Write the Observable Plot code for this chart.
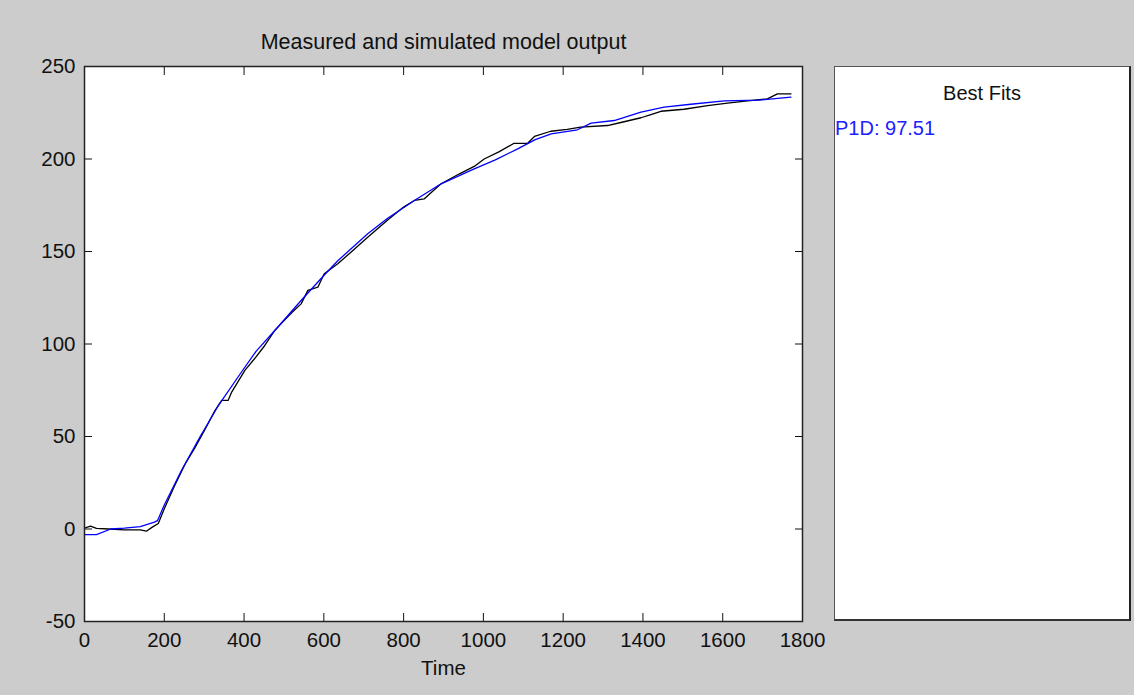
<!DOCTYPE html>
<html><head><meta charset="utf-8">
<script src="https://cdn.jsdelivr.net/npm/d3@7"></script>
<script src="https://cdn.jsdelivr.net/npm/@observablehq/plot@0.6"></script>
<style>
html,body{margin:0;padding:0;background:#cccccc;}
#wrap{position:relative;width:1134px;height:695px;background:#cccccc;font-family:"Liberation Sans",Arial,sans-serif;overflow:hidden;}
#wrap svg{position:absolute;left:0;top:0;}
#legend{position:absolute;left:834px;top:66px;width:294px;height:552px;background:#fff;border-top:1px solid #555;border-left:1px solid #555;border-right:2px solid #222;border-bottom:2px solid #333;}
#legend .ttl{position:absolute;left:0;right:0;top:15px;text-align:center;font-size:20px;color:#111;}
#legend .fit{position:absolute;left:0px;top:50px;font-size:20px;color:#2020ff;}
</style>
</head><body>
<div id="wrap">
  <div id="legend"><div class="ttl"></div><div class="fit"></div></div>
</div>
<script>
const titleText = "Measured and simulated model output";
const xLabel = "Time";
const legendTitle = "Best Fits";
const legendEntry = "P1D: 97.51";
const xTicks = [0, 200, 400, 600, 800, 1000, 1200, 1400, 1600, 1800];
const yTicks = [-50, 0, 50, 100, 150, 200, 250];

// Measured output (black)
const measuredT = [0, 15, 30, 60, 100, 140, 155, 170, 185, 200, 225, 252, 277, 300, 327, 344, 360, 369, 402, 430, 452, 477, 493, 520, 543, 560, 585, 601, 635, 670, 710, 760, 800, 827, 852, 870, 894, 940, 977, 1002, 1040, 1077, 1111, 1128, 1169, 1210, 1244, 1311, 1350, 1395, 1420, 1445, 1503, 1562, 1612, 1662, 1712, 1737, 1771];
const measuredY = [0.5, 1.5, 0.3, 0, -0.5, -0.5, -1.2, 1, 3, 11, 23, 35, 44, 53, 64, 69.5, 69.5, 74, 85.7, 93, 99.2, 107.3, 111, 117, 121.7, 129, 130.7, 138, 143.4, 150, 157.7, 167, 174, 177.6, 178.5, 182, 186.6, 192, 196, 200, 204, 208.5, 208.5, 212.2, 215, 216, 217.2, 218.1, 220, 222.3, 224, 225.8, 226.9, 228.9, 230.2, 231.4, 232.5, 235.2, 235.2];

// Simulated P1D model output (blue)
const simT = [0, 30, 66, 100, 140, 175, 183, 200, 243, 290, 335, 394, 430, 477, 543, 600, 635, 710, 760, 827, 894, 977, 1030, 1086, 1130, 1170, 1236, 1270, 1328, 1395, 1453, 1520, 1604, 1688, 1771];
const simY = [-3, -3, 0, 0.5, 1.3, 3.7, 4.5, 13, 31.6, 50, 66.5, 85, 96, 107.3, 123.5, 137, 145, 159.6, 168, 177.6, 186.6, 194.7, 199.5, 205.5, 210.5, 213.6, 215.8, 219.4, 220.8, 225.3, 228, 229.6, 231.4, 231.8, 233.4];

const measured = measuredT.map((t, i) => ({t, y: measuredY[i]}));
const simulated = simT.map((t, i) => ({t, y: simY[i]}));
const fmt = d => String(d);

const chart = Plot.plot({
  width: 1134, height: 695,
  marginLeft: 84, marginRight: 332, marginTop: 66, marginBottom: 74,
  style: {background: "transparent", fontFamily: "'Liberation Sans', Arial, sans-serif", fontSize: "20px", color: "#111"},
  x: {domain: [0, 1800]},
  y: {domain: [-50, 250]},
  marks: [
    Plot.frame({fill: "white", stroke: null}),
    Plot.line(measured, {x: "t", y: "y", stroke: "#000", strokeWidth: 1.3}),
    Plot.line(simulated, {x: "t", y: "y", stroke: "#0000ff", strokeWidth: 1.3}),
    Plot.axisX({ticks: xTicks, anchor: "bottom", tickSize: -8, tickPadding: 19, tickFormat: fmt, label: null, fontSize: 20.5}),
    Plot.axisX({ticks: xTicks, anchor: "top", tickSize: -8, tickFormat: () => "", label: null}),
    Plot.axisY({ticks: yTicks, anchor: "left", tickSize: -8, tickPadding: 17, tickFormat: fmt, label: null, fontSize: 20.5}),
    Plot.axisY({ticks: yTicks, anchor: "right", tickSize: -8, tickFormat: () => "", label: null}),
    Plot.frame({stroke: "#222", strokeWidth: 1.5}),
    Plot.text([titleText], {text: d => d, frameAnchor: "top", lineAnchor: "middle", dy: -24, fontSize: 21.5, fill: "#111"}),
    Plot.text([xLabel], {text: d => d, frameAnchor: "bottom", lineAnchor: "middle", dy: 47, fontSize: 20.5, fill: "#111"})
  ]
});
const wrap = document.getElementById("wrap");
wrap.insertBefore(chart, wrap.firstChild);
document.querySelector("#legend .ttl").textContent = legendTitle;
document.querySelector("#legend .fit").textContent = legendEntry;
</script>
</body></html>
